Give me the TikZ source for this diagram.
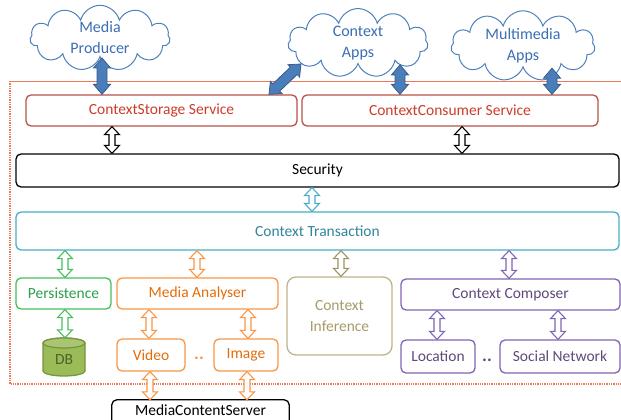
\documentclass[tikz,border=0pt]{standalone}
\usepackage{fontspec}
\setmainfont{Carlito}
\usetikzlibrary{shapes.symbols,shapes.geometric,calc}
\definecolor{redB}{RGB}{185,80,70}
\definecolor{redT}{RGB}{205,60,40}
\definecolor{cloudB}{RGB}{79,129,189}
\definecolor{cloudT}{RGB}{60,110,180}
\definecolor{arrF}{RGB}{74,126,187}
\definecolor{arrB}{RGB}{56,93,138}
\definecolor{tealB}{RGB}{75,172,198}
\definecolor{tealT}{RGB}{49,133,156}
\definecolor{grnB}{RGB}{70,190,90}
\definecolor{grnT}{RGB}{40,160,75}
\definecolor{dbF}{RGB}{155,187,89}
\definecolor{dbB}{RGB}{119,147,60}
\definecolor{dbT}{RGB}{79,98,40}
\definecolor{orgB}{RGB}{247,150,70}
\definecolor{orgT}{RGB}{228,108,10}
\definecolor{oliB}{RGB}{190,180,140}
\definecolor{oliT}{RGB}{165,155,105}
\definecolor{oliA}{RGB}{160,145,100}
\definecolor{purB}{RGB}{128,100,180}
\definecolor{purT}{RGB}{95,73,122}
\definecolor{frameC}{RGB}{240,120,90}
\newcommand\barrow[7]{%
 \draw[#1] (#2) -- ($(#2)!#4!#5:(#3)$) -- ($(#2)!#6!#7:(#3)$) -- ($(#3)!#6!-#7:(#2)$) -- ($(#3)!#4!-#5:(#2)$) -- (#3) -- ($(#3)!#4!#5:(#2)$) -- ($(#3)!#6!#7:(#2)$) -- ($(#2)!#6!-#7:(#3)$) -- ($(#2)!#4!-#5:(#3)$) -- cycle;}
\newcommand\hollowarr[4]{%
 \coordinate (hx) at (#2,0);
 \coordinate (ha) at (#3.south -| hx);
 \coordinate (hb) at (#4.north -| hx);
 \barrow{draw=#1, fill=white, line width=1.1pt}{ha}{hb}{10.966pt}{43.15}{8.544pt}{20.56}}
\newcommand\bluearr[3]{%
 \coordinate (bx) at (#1,0);
 \coordinate (ba) at (#2.south -| bx);
 \coordinate (bb) at (#3.north -| bx);
 \barrow{bluefill}{ba}{bb}{13.124pt}{40.36}{11.18pt}{26.565}}
\begin{document}
\begin{tikzpicture}[x=1pt,y=-1pt,
  box/.style={draw, rounded corners=5pt, line width=1.3pt, inner sep=0pt, font=\fontsize{15.5}{17}\selectfont},
  cloudn/.style={cloud, cloud puffs=11, aspect=2.2, draw=cloudB, line width=1pt, fill=white, text=cloudT, align=center, inner sep=0pt, font=\fontsize{16}{21}\selectfont},
  bluefill/.style={fill=arrF, draw=arrB, line width=0.8pt, line join=miter},
  dotsn/.style={font=\fontsize{18}{18}\selectfont\bfseries, inner sep=0pt}]
\useasboundingbox (0,0) rectangle (621,420);
% frame
\draw[frameC, line width=1pt] (10,81) -- (640,81);
\draw[frameC, densely dotted, line width=1.3pt] (10,81) -- (10,384) -- (640,384);
% clouds
\node[cloudn, minimum width=140, minimum height=60] (mp) at (100,38) {Media\\Producer};
\node[cloudn, minimum width=140, minimum height=56] (ca) at (358,43) {Context\\Apps};
\node[cloudn, minimum width=144, minimum height=52] (ma) at (523,46) {Multimedia\\Apps};
% boxes
\node[box, draw=redB, text=redT, minimum width=271, minimum height=31] (storage) at (161.5,110.5) {ContextStorage Service};
\node[box, draw=redB, text=redT, minimum width=296, minimum height=31] (consumer) at (450,110.5) {ContextConsumer Service};
\node[box, draw=black, text=black, minimum width=603, minimum height=33] (security) at (317.5,170.5) {Security};
\node[box, draw=tealB, text=tealT, minimum width=603, minimum height=38] (trans) at (317.5,231) {Context Transaction};
\node[box, draw=grnB, text=grnT, minimum width=95, minimum height=31] (pers) at (63.5,293.5) {Persistence};
\node[box, draw=orgB, text=orgT, minimum width=161, minimum height=31] (analyser) at (197.5,293.5) {Media Analyser};
\node[box, draw=oliB, text=oliT, minimum width=105, minimum height=78, align=center, rounded corners=9pt, font=\fontsize{15.5}{21}\selectfont] (infer) at (339.5,316) {Context\\Inference};
\node[box, draw=purB, text=purT, minimum width=219, minimum height=31] (composer) at (510.5,294.5) {Context Composer};
% DB cylinder
\node[text=dbT, minimum width=42, minimum height=38, inner sep=0pt, font=\fontsize{15.5}{17}\selectfont] (db) at (64,357) {};
\begin{scope}[shift={(db.center)}]
  \draw[fill=dbF, draw=dbB, line width=1.2pt] (-21,-14) -- (-21,14) arc[start angle=180, end angle=0, x radius=21, y radius=5] -- (21,-14) arc[start angle=0, end angle=-180, x radius=21, y radius=5] -- cycle;
  \draw[fill=dbF!85!white, draw=dbB, line width=1.2pt] (0,-14) ellipse[x radius=21, y radius=5];
\end{scope}
\node[text=dbT, inner sep=0pt, font=\fontsize{15.5}{17}\selectfont] at ([yshift=-3pt]db.center) {DB};
\node[box, draw=orgB, text=orgT, minimum width=68, minimum height=32] (video) at (151,355) {Video};
\node[box, draw=orgB, text=orgT, minimum width=64, minimum height=32] (image) at (246,355) {Image};
\node[box, draw=purB, text=purT, minimum width=74, minimum height=33] (location) at (438,356.5) {Location};
\node[box, draw=purB, text=purT, minimum width=120, minimum height=33] (social) at (560,356.5) {Social Network};
% media content server (box runs past the bottom edge)
\node[text=black, minimum width=177, minimum height=20, inner sep=0pt, font=\fontsize{15.5}{17}\selectfont] (mcs) at (200.5,410) {MediaContentServer};
\draw[black, line width=1.3pt, rounded corners=5pt] ([yshift=-12pt]mcs.south west) -- (mcs.north west) -- (mcs.north east) -- ([yshift=-12pt]mcs.south east);
\node[dotsn, text=orgB] (dots1) at (199,358) {..};
\node[dotsn, text=purT] (dots2) at (487,360) {..};
% blue arrows
\bluearr{102}{mp}{storage}
\bluearr{400}{ca}{consumer}
\bluearr{552}{ma}{consumer}
\coordinate (dgx) at (269,0);
\coordinate (dga) at (storage.north -| dgx);
\coordinate (dgb) at (301,64);
\barrow{bluefill}{dga}{dgb}{13.124pt}{40.36}{11.18pt}{26.565}
% hollow arrows
\hollowarr{black}{112}{storage}{security}
\hollowarr{black}{462}{consumer}{security}
\hollowarr{tealB}{312}{security}{trans}
\hollowarr{grnB}{65}{trans}{pers}
\hollowarr{orgB}{197}{trans}{analyser}
\hollowarr{oliA}{341}{trans}{infer}
\hollowarr{purB}{509}{trans}{composer}
\hollowarr{grnB}{65}{pers}{db}
\hollowarr{orgB}{149}{analyser}{video}
\hollowarr{orgB}{248}{analyser}{image}
\hollowarr{purB}{437}{composer}{location}
\hollowarr{purB}{558}{composer}{social}
\hollowarr{orgB}{150}{video}{mcs}
\hollowarr{orgB}{247}{image}{mcs}
\end{tikzpicture}
\end{document}
